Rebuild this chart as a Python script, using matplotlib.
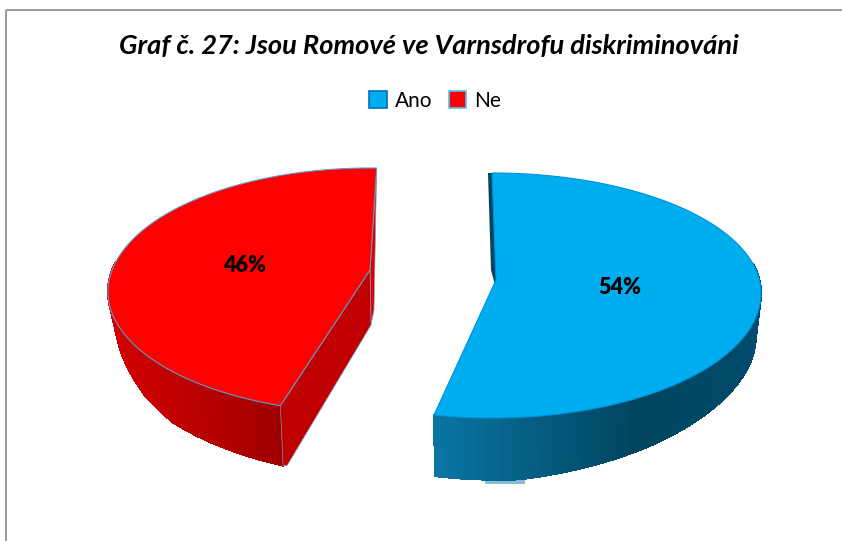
#!/usr/bin/env python3

import numpy as np
import matplotlib
matplotlib.use("Agg")
import matplotlib.pyplot as plt
from matplotlib.patches import Patch, Polygon, Rectangle
from matplotlib.colors import to_rgb

# ===================== DATA =====================

categories = ["Ano", "Ne"]
values = [54, 46]
title = "Graf č. 27: Jsou Romové ve Varnsdrofu diskriminováni"

# ===================== STYLE =====================

W, H = 842, 541
FONT = ["Lato", "Carlito", "DejaVu Sans"]

TOP_COLORS = ["#00AEEF", "#FF0000"]
RIM_COLORS = ["#0090DC", "#5C9CC8"]
LEGEND_EDGES = ["#0070B8", "#4FC3F7"]
CUT_COLORS = ["#004560", "#C00000"]
# wall gradient: x position in px -> colour
WALL_STOPS = [
    ([433, 640, 760], ["#0A76A4", "#00445E", "#004C6C"]),
    ([108, 285], ["#D20000", "#9E0000"]),
]

# every slice is an ellipse with its own centre, perspective makes it uneven
SLICE_GEOM = [
    dict(cx=492, cy=293, rx=269, ry_up=120, ry_down=125, apex=(496, 280),
         start=0.0, stretch=0.99, shrink=0.98, label=(620, 287),
         depth_x=[433, 520, 650, 745, 761], depth_y=[61, 62, 53, 45, 44]),
    dict(cx=370, cy=292, rx=262, ry_up=124, ry_down=121, apex=(370, 270),
         start=200.0, stretch=0.975, shrink=0.97, label=(245, 265),
         depth_x=[108, 137, 167, 283], depth_y=[33, 47, 54, 60]),
]


def arc_points(g, t):
    t = np.radians(t)
    ry = np.where(np.cos(t) > 0, g["ry_up"], g["ry_down"])
    return g["cx"] + g["rx"] * np.sin(t), g["cy"] - ry * np.cos(t)


def wall_color(stops, x):
    xs, cols = stops
    rgb = np.array([to_rgb(c) for c in cols])
    return [np.interp(x, xs, rgb[:, i]) for i in range(3)]


def draw_slice(ax, i, value):
    g = SLICE_GEOM[i]
    span = value * 3.6 * g["stretch"]
    t = np.linspace(g["start"], g["start"] + span, 300)
    x, y = arc_points(g, t)
    ax_, ay = g["apex"]

    # bottom outline of the wall
    bx = g["cx"] + (x - g["cx"]) * g["shrink"]
    by = y + np.interp(x, g["depth_x"], g["depth_y"])

    # outer wall, only the part facing the viewer
    front = np.cos(np.radians(t)) < 0.25
    for k in range(len(t) - 1):
        if not (front[k] and front[k + 1]):
            continue
        c = wall_color(WALL_STOPS[i], (x[k] + x[k + 1]) / 2)
        ax.add_patch(Polygon(
            [(x[k], y[k]), (x[k + 1], y[k + 1]), (bx[k + 1], by[k + 1]), (bx[k], by[k])],
            facecolor=c, edgecolor=c, linewidth=0.8, antialiased=False, zorder=2))

    # cut walls
    if i == 0:
        ax.add_patch(Polygon(
            [(x[0] - 4, y[0]), (x[0] + 1, y[0]), (ax_ + 1, ay), (ax_ - 1, ay + 5), (ax_ - 5, ay - 10)],
            facecolor=CUT_COLORS[i], edgecolor="none", zorder=2))
    else:
        # red: the arc runs from the front edge up to the top edge
        ax.add_patch(Polygon(
            [(x[-1], y[-1]), (ax_ + 4, ay + 40), (ax_ + 1, ay + 55), (ax_, ay)],
            facecolor="#E00000", edgecolor="#7FA0C0", linewidth=0.5, zorder=3))
        ax.add_patch(Polygon(
            [(x[0], y[0]), (ax_, ay), (ax_ + 1, ay + 55), (bx[0] + 4, by[0]), (bx[0], by[0])],
            facecolor=CUT_COLORS[i], edgecolor="#6F9CC0", linewidth=0.5, zorder=3))

    # top face
    ax.add_patch(Polygon(
        np.column_stack([np.r_[x, ax_], np.r_[y, ay]]),
        closed=True, facecolor=TOP_COLORS[i], edgecolor=RIM_COLORS[i],
        linewidth=0.8, zorder=4))

    ax.text(g["label"][0], g["label"][1], f"{value}%", ha="center", va="center",
            fontsize=15.5, fontweight="heavy", family=FONT, color="black", zorder=5)


# ===================== FIGURE =====================

fig = plt.figure(figsize=(W / 100, H / 100), dpi=100, facecolor="white")
ax = fig.add_axes([0, 0, 1, 1])
ax.set_xlim(0, W)
ax.set_ylim(H, 0)
ax.axis("off")

# chart frame, cut off by the screenshot on the right and bottom
ax.add_patch(Rectangle((6, 10), W + 10, H + 10, fill=False, edgecolor="#8A8A8A", linewidth=1.2))

ax.text(429, 46, title, ha="center", va="center", fontsize=19.6,
        fontweight="bold", fontstyle="italic", family=FONT, color="black")

for i, v in enumerate(values):
    draw_slice(ax, i, v)

# small smear under the blue slice
ax.add_patch(Rectangle((485, 474), 40, 10, facecolor="#8DBAD6", edgecolor="none", zorder=1))

handles = [Patch(facecolor=TOP_COLORS[i], edgecolor=LEGEND_EDGES[i], linewidth=1.2, label=c)
           for i, c in enumerate(categories)]
ax.legend(handles=handles, loc="center", bbox_to_anchor=(435, 101), bbox_transform=ax.transData,
          ncol=2, frameon=False, prop={"family": FONT, "size": 15}, handlelength=0.85,
          handleheight=0.85, handletextpad=0.35, columnspacing=0.8, borderpad=0)

fig.savefig("out.png", dpi=100)
